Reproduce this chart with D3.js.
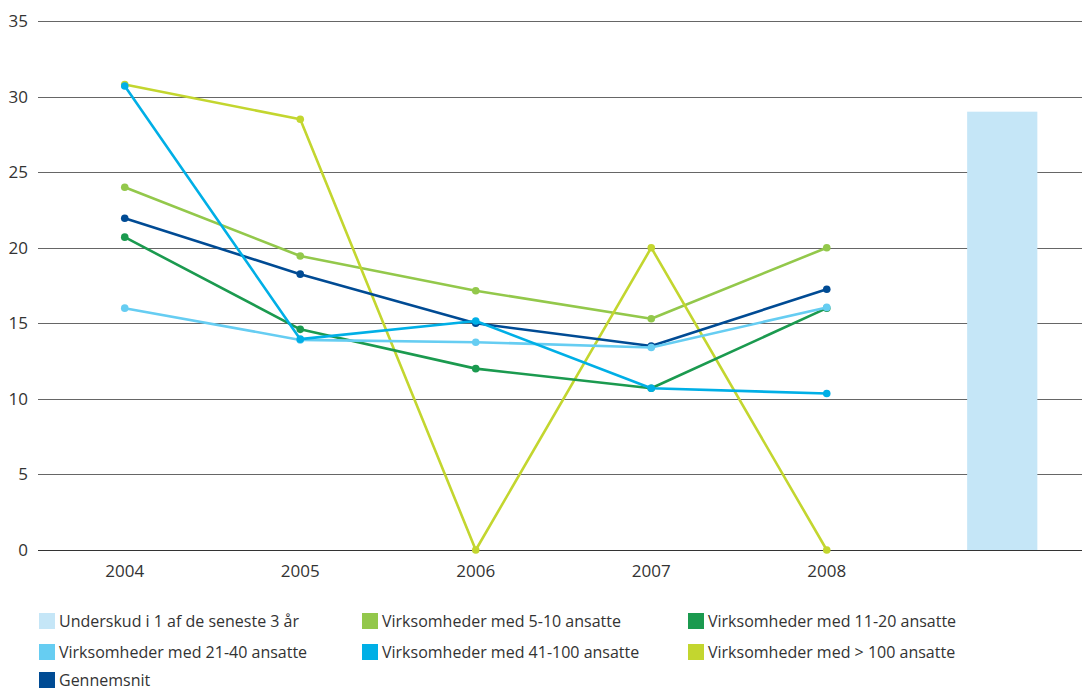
<!DOCTYPE html>
<html><head><meta charset="utf-8">
<script src="https://cdn.jsdelivr.net/npm/d3@7"></script>
<style>
html,body{margin:0;padding:0;background:#fff;}
text{font-family:"Open Sans","Noto Sans",sans-serif;}
</style></head>
<body><svg id="c" width="1082" height="691"></svg>
<script>
const years = ["2004","2005","2006","2007","2008"];
const categories = ["2004","2005","2006","2007","2008",""];
const yTicks = [0,5,10,15,20,25,30,35];

const barLabel = "Underskud i 1 af de seneste 3 år";
const barValue = 29;

const s5_10 = [24.0, 19.45, 17.15, 15.3, 20.0];
const s11_20 = [20.7, 14.6, 12.0, 10.7, 16.0];
const s21_40 = [16.0, 13.9, 13.75, 13.4, 16.05];
const s41_100 = [30.7, 13.95, 15.15, 10.7, 10.35];
const s100 = [30.8, 28.5, 0, 20.0, 0];
const sAvg = [21.95, 18.25, 15.0, 13.5, 17.25];

const seriesNames = ["Virksomheder med 5-10 ansatte","Virksomheder med 11-20 ansatte","Virksomheder med 21-40 ansatte","Virksomheder med 41-100 ansatte","Virksomheder med > 100 ansatte","Gennemsnit"];
const seriesValues = [s5_10, s11_20, s21_40, s41_100, s100, sAvg];
const seriesColors = ["#93c84b","#1b9a4f","#66cdf2","#00afe6","#c3d62f","#004b94"];
const barColor = "#c5e6f7";

const svg = d3.select("#c");
const x = d3.scalePoint().domain(categories).range([37,1090]).padding(0.5);
const y = d3.scaleLinear().domain([0,35]).range([550,21]);

// gridlines
svg.append("g").selectAll("line").data(yTicks).join("line")
  .attr("x1",38).attr("x2",1082)
  .attr("y1",d=>Math.round(y(d))+0.5).attr("y2",d=>Math.round(y(d))+0.5)
  .attr("stroke",d=>d===0?"#333":"#666").attr("stroke-width",1);

// y labels
svg.append("g").selectAll("text").data(yTicks).join("text")
  .attr("x",28).attr("y",d=>y(d)).attr("dy","0.35em")
  .attr("text-anchor","end").attr("font-size",17).attr("fill","#333")
  .text(d=>d);

// x labels
svg.append("g").selectAll("text").data(years).join("text")
  .attr("x",d=>x(d)).attr("y",577).attr("text-anchor","middle")
  .attr("font-size",17).attr("fill","#333").text(d=>d);

// bar
const bw = x.step()*0.4;
svg.append("rect").attr("x",x("")-bw/2).attr("width",bw)
  .attr("y",y(barValue)).attr("height",y(0)-y(barValue)).attr("fill",barColor);

// lines
const line = d3.line().x((d,i)=>x(years[i])).y(d=>y(d));
const order = [0,4,1,5,2,3];
order.forEach(k=>{
  const g = svg.append("g");
  g.append("path").datum(seriesValues[k]).attr("d",line)
    .attr("fill","none").attr("stroke",seriesColors[k]).attr("stroke-width",2.6)
    .attr("stroke-linejoin","round");
  g.selectAll("circle").data(seriesValues[k]).join("circle")
    .attr("cx",(d,i)=>x(years[i])).attr("cy",d=>y(d)).attr("r",3.8)
    .attr("fill",seriesColors[k]);
});

// legend
const legItems = [{n:barLabel,c:barColor}].concat(seriesNames.map((n,i)=>({n,c:seriesColors[i]})));
const colX = [39,362,688];
const rowY = [613,644,672];
const lg = svg.append("g");
legItems.forEach((it,i)=>{
  const cx = colX[i%3], cy = rowY[Math.floor(i/3)];
  lg.append("rect").attr("x",cx).attr("y",cy).attr("width",16).attr("height",16).attr("fill",it.c);
  lg.append("text").attr("x",cx+20).attr("y",cy+8).attr("dy","0.35em")
    .attr("font-size",16).attr("fill","#333").text(it.n);
});
</script></body></html>
